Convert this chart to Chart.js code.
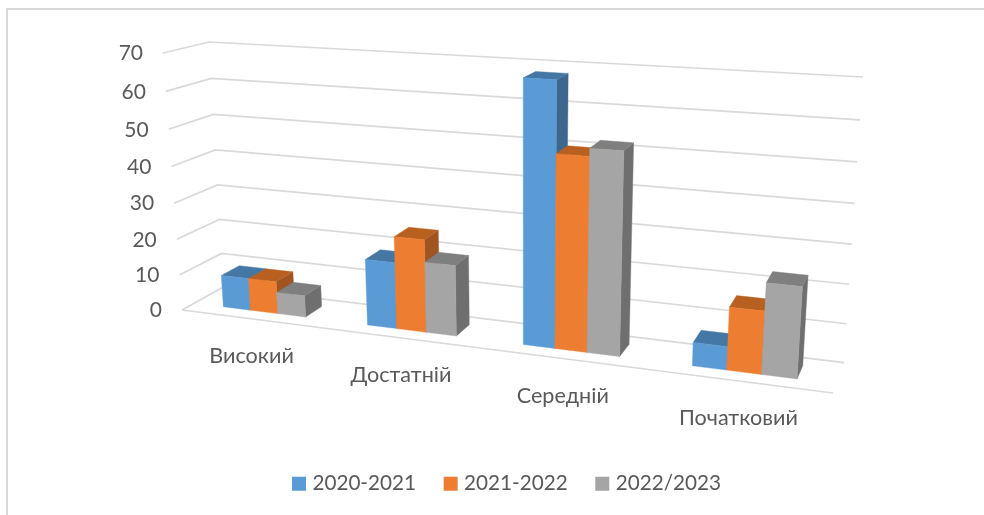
<!DOCTYPE html>
<html>
<head>
<meta charset="utf-8">
<style>
html,body{margin:0;padding:0;background:#fff;overflow:hidden;width:984px;height:515px}
#frame{position:absolute;left:6px;top:8px;width:990px;height:520px;border:2px solid #d9d9d9;box-sizing:border-box}
#wrap{position:absolute;left:0;top:0;width:984px;height:515px}
</style>
<script src="https://cdn.jsdelivr.net/npm/chart.js@4/dist/chart.umd.min.js"></script>
</head>
<body>
<div id="frame"></div>
<div id="wrap"><canvas id="c" width="984" height="515"></canvas></div>
<script>
const categories = ['Високий', 'Достатній', 'Середній', 'Початковий'];
const seriesNames = ['2020-2021', '2021-2022', '2022/2023'];
const values2020 = [9, 18, 68, 6];
const values2021 = [9, 25, 50, 16];
const values2022 = [6, 19, 52, 23];
const faceColors = ['#5B9BD5', '#ED7D31', '#A5A5A5'];
const topColors = ['#4577A4', '#B8601F', '#7F7F7F'];
const sideColors = ['#3C678E', '#A05420', '#6F6F6F'];

const FONT = 'Lato, sans-serif';
const TEXT = '#595959';
const GRID = '#D9D9D9';

// Projection of the chart's plot rectangle onto the front and back planes of the 3-D box.
function homography(bl, br, tr, tl) {
  const [x0,y0]=bl,[x1,y1]=br,[x2,y2]=tr,[x3,y3]=tl;
  const dx1=x1-x2,dx2=x3-x2,sx=x0-x1+x2-x3,dy1=y1-y2,dy2=y3-y2,sy=y0-y1+y2-y3;
  const den=dx1*dy2-dx2*dy1;
  const g=(sx*dy2-dx2*sy)/den,h=(dx1*sy-sx*dy1)/den;
  const a=x1-x0+g*x1,b=x3-x0+h*x3,d=y1-y0+g*y1,e=y3-y0+h*y3;
  return (u,v)=>{const w=g*u+h*v+1;return [(a*u+b*v+x0)/w,(d*u+e*v+y0)/w];};
}
const frontPlane = homography([182,310],[833,393],[853,93.4],[163,53]);
const backPlane  = homography([223.5,287],[844,362.6],[863,77],[209,42]);
function project(u,v,d){
  const f=frontPlane(u,v),b=backPlane(u,v);
  return [f[0]+(b[0]-f[0])*d,f[1]+(b[1]-f[1])*d];
}
const BAR_NEAR = 0.3, BAR_FAR = 0.74;

function poly(ctx,pts,color){
  ctx.beginPath();
  pts.forEach((p,i)=>i?ctx.lineTo(p[0],p[1]):ctx.moveTo(p[0],p[1]));
  ctx.closePath();
  ctx.fillStyle=color;ctx.strokeStyle=color;ctx.lineWidth=0.4;
  ctx.fill();ctx.stroke();
}
const box3d = {
  id:'box3d',
  beforeDatasetsDraw(chart){
    const {ctx,chartArea:A,scales:{x,y}}=chart;
    const U=px=>(px-A.left)/(A.right-A.left);
    const V=py=>(A.bottom-py)/(A.bottom-A.top);
    ctx.save();
    // gridlines along the side and back walls
    ctx.strokeStyle=GRID;ctx.lineWidth=1.7;ctx.lineJoin='miter';
    y.ticks.forEach(t=>{
      const v=V(y.getPixelForValue(t.value));
      const a=project(0,v,0),b=project(0,v,1),c=project(1,v,1);
      ctx.beginPath();ctx.moveTo(a[0],a[1]);ctx.lineTo(b[0],b[1]);ctx.lineTo(c[0],c[1]);ctx.stroke();
    });
    const f0=project(0,0,0),f1=project(1,0,0);
    ctx.beginPath();ctx.moveTo(f0[0],f0[1]);ctx.lineTo(f1[0],f1[1]);ctx.stroke();

    // axis labels
    ctx.fillStyle=TEXT;ctx.font='21px '+FONT;ctx.textBaseline='middle';
    ctx.textAlign='right';
    y.ticks.forEach(t=>{
      const p=project(0,V(y.getPixelForValue(t.value)),0);
      ctx.fillText(String(t.value),p[0]-20,p[1]+0.5);
    });
    ctx.font='21.6px '+FONT;
    ctx.textAlign='center';
    categories.forEach((c,j)=>{
      const p=project(U(x.getPixelForValue(j)),0,0);
      ctx.fillText(c,p[0]-1,p[1]+37);
    });

    // bars, drawn from the library's bar elements
    categories.forEach((c,j)=>{
      chart.data.datasets.forEach((ds,i)=>{
        const el=chart.getDatasetMeta(i).data[j];
        const u1=U(el.x-el.width/2),u2=U(el.x+el.width/2),vt=V(el.y),vb=V(el.base);
        const n=BAR_NEAR,f=BAR_FAR;
        poly(ctx,[project(u2,vb,n),project(u2,vb,f),project(u2,vt,f),project(u2,vt,n)],sideColors[i]);
        poly(ctx,[project(u1,vt,n),project(u2,vt,n),project(u2,vt,f),project(u1,vt,f)],topColors[i]);
        poly(ctx,[project(u1,vb,n),project(u2,vb,n),project(u2,vt,n),project(u1,vt,n)],faceColors[i]);
      });
    });
    ctx.restore();
    return false;
  }
};

new Chart(document.getElementById('c'),{
  type:'bar',
  data:{
    labels:categories,
    datasets:[
      {label:seriesNames[0],data:values2020,backgroundColor:faceColors[0]},
      {label:seriesNames[1],data:values2021,backgroundColor:faceColors[1]},
      {label:seriesNames[2],data:values2022,backgroundColor:faceColors[2]}
    ]
  },
  plugins:[box3d],
  options:{
    responsive:false,
    animation:false,
    layout:{padding:{left:33,right:0,top:52,bottom:11}},
    datasets:{bar:{barPercentage:1,categoryPercentage:0.58}},
    scales:{
      x:{display:false},
      y:{display:false,min:0,max:70,ticks:{stepSize:10}}
    },
    plugins:{
      tooltip:{enabled:false},
      legend:{
        position:'bottom',
        labels:{
          boxWidth:6,boxHeight:6,padding:31.6,color:TEXT,
          font:{family:FONT,size:20.7},
          generateLabels(chart){
            return Chart.defaults.plugins.legend.labels.generateLabels(chart).map((it,i)=>
              Object.assign(it,{strokeStyle:faceColors[i],lineWidth:8}));
          }
        }
      }
    }
  }
});
</script>
</body>
</html>
